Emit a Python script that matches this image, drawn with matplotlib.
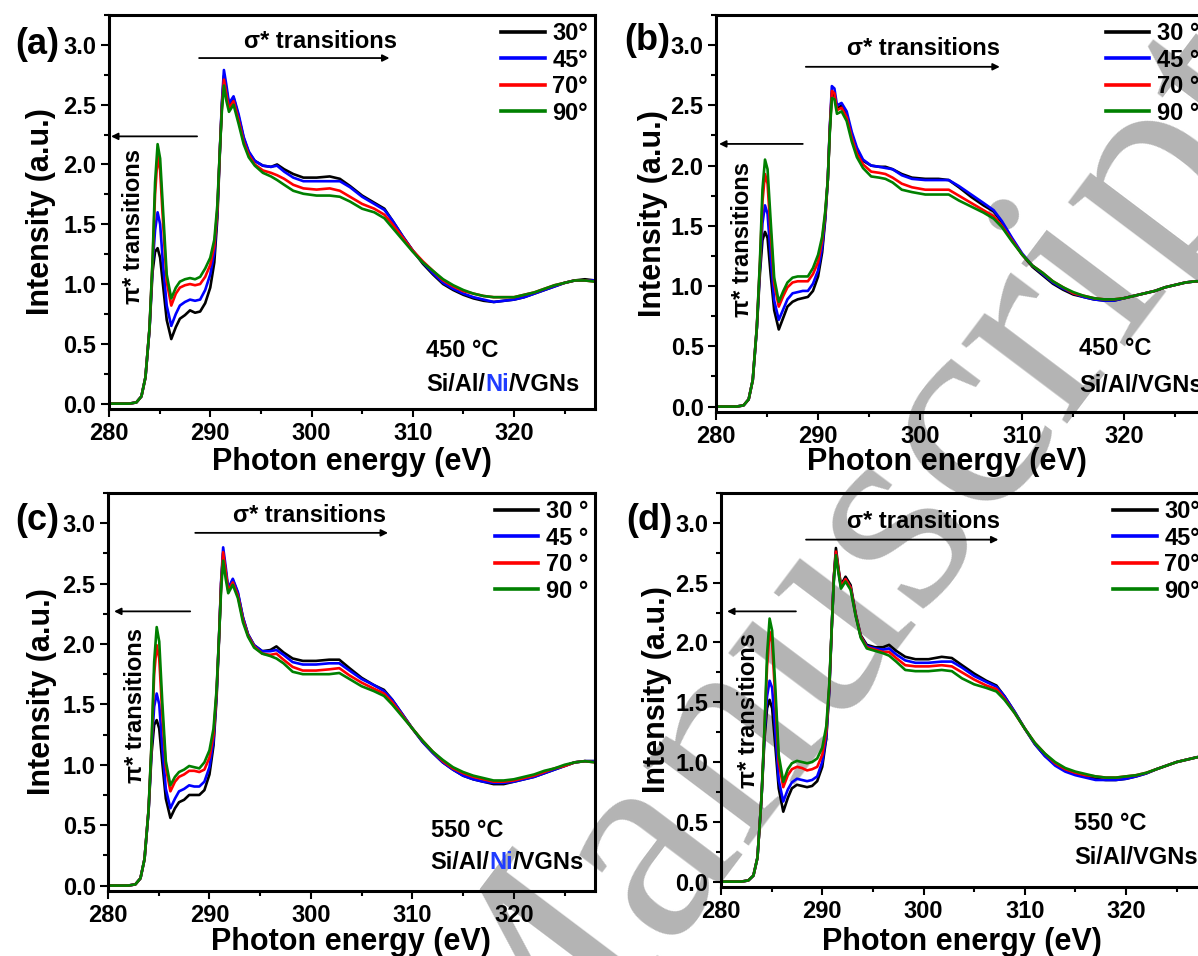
import matplotlib
matplotlib.use("Agg")
import matplotlib.pyplot as plt
from matplotlib.ticker import MultipleLocator, FormatStrFormatter

plt.rcParams['font.family'] = ['Liberation Sans', 'DejaVu Sans']
plt.rcParams['font.weight'] = 'bold'

# ---------------- data ----------------
energy = [280.0, 281.0, 282.0, 282.7, 283.2, 283.6, 284.0, 284.3, 284.55, 284.8,
          285.05, 285.35, 285.7, 286.15, 286.6, 287.0, 287.5, 288.0, 288.5, 289.0,
          289.5, 290.0, 290.4, 290.7, 290.95, 291.15, 291.35, 291.6, 291.85, 292.3,
          292.8, 293.3, 293.8, 294.4, 295.2, 296.0, 296.6, 297.3, 298.2, 299.2,
          300.5, 301.8, 302.8, 303.8, 305.0, 306.2, 307.2, 308.0, 309.0, 310.0,
          311.0, 312.0, 313.0, 314.0, 315.0, 316.0, 317.0, 318.0, 319.0, 320.0,
          321.0, 322.0, 323.0, 324.0, 325.0, 326.0, 327.0, 328.0]

# (a) 450 C  Si/Al/Ni/VGNs
a30 = [0.00, 0.00, 0.00, 0.01, 0.06, 0.22, 0.62, 1.10, 1.27, 1.30,
       1.22, 0.98, 0.70, 0.54, 0.64, 0.71, 0.74, 0.78, 0.76, 0.77,
       0.84, 0.97, 1.18, 1.55, 2.10, 2.50, 2.74, 2.62, 2.50, 2.56,
       2.40, 2.22, 2.10, 2.03, 1.99, 1.98, 2.00, 1.96, 1.92, 1.89,
       1.89, 1.90, 1.88, 1.82, 1.74, 1.68, 1.63, 1.53, 1.40, 1.28,
       1.17, 1.08, 1.00, 0.95, 0.91, 0.88, 0.86, 0.85, 0.86, 0.87,
       0.89, 0.92, 0.95, 0.98, 1.01, 1.03, 1.04, 1.03]
a45 = [0.00, 0.00, 0.00, 0.01, 0.06, 0.22, 0.62, 1.15, 1.45, 1.60,
       1.50, 1.15, 0.82, 0.65, 0.75, 0.82, 0.85, 0.87, 0.86, 0.87,
       0.95, 1.08, 1.26, 1.60, 2.12, 2.52, 2.79, 2.66, 2.51, 2.57,
       2.42, 2.23, 2.11, 2.03, 1.99, 1.98, 1.99, 1.94, 1.89, 1.86,
       1.86, 1.86, 1.86, 1.81, 1.73, 1.67, 1.62, 1.53, 1.40, 1.28,
       1.18, 1.09, 1.01, 0.96, 0.92, 0.89, 0.87, 0.85, 0.86, 0.87,
       0.89, 0.92, 0.95, 0.98, 1.01, 1.03, 1.03, 1.03]
a70 = [0.00, 0.00, 0.00, 0.01, 0.06, 0.22, 0.63, 1.18, 1.75, 2.07,
       1.95, 1.50, 1.02, 0.82, 0.92, 0.97, 0.99, 1.00, 0.99, 1.00,
       1.06, 1.16, 1.32, 1.62, 2.12, 2.48, 2.71, 2.58, 2.47, 2.53,
       2.37, 2.19, 2.08, 2.00, 1.95, 1.93, 1.91, 1.88, 1.83, 1.80,
       1.79, 1.80, 1.78, 1.73, 1.67, 1.63, 1.58, 1.50, 1.39, 1.28,
       1.19, 1.11, 1.03, 0.98, 0.94, 0.92, 0.90, 0.89, 0.89, 0.89,
       0.91, 0.93, 0.96, 0.99, 1.01, 1.03, 1.03, 1.02]
a90 = [0.00, 0.00, 0.00, 0.01, 0.06, 0.22, 0.63, 1.20, 1.85, 2.17,
       2.05, 1.60, 1.08, 0.88, 0.97, 1.02, 1.04, 1.05, 1.04, 1.06,
       1.13, 1.22, 1.37, 1.66, 2.12, 2.45, 2.66, 2.53, 2.44, 2.50,
       2.34, 2.17, 2.06, 1.99, 1.93, 1.90, 1.87, 1.83, 1.78, 1.755,
       1.74, 1.74, 1.73, 1.69, 1.63, 1.60, 1.55, 1.47, 1.37, 1.27,
       1.18, 1.11, 1.04, 0.99, 0.95, 0.92, 0.90, 0.89, 0.89, 0.89,
       0.91, 0.93, 0.96, 0.99, 1.01, 1.03, 1.03, 1.02]

# (b) 450 C  Si/Al/VGNs
b30 = [0.00, 0.00, 0.00, 0.01, 0.06, 0.22, 0.65, 1.10, 1.38, 1.45,
       1.40, 1.10, 0.80, 0.64, 0.74, 0.83, 0.87, 0.89, 0.90, 0.91,
       0.96, 1.08, 1.28, 1.55, 1.88, 2.30, 2.60, 2.58, 2.47, 2.50,
       2.42, 2.26, 2.13, 2.04, 2.00, 1.99, 1.99, 1.97, 1.93, 1.90,
       1.89, 1.89, 1.88, 1.82, 1.74, 1.67, 1.62, 1.53, 1.39, 1.26,
       1.16, 1.09, 1.02, 0.97, 0.93, 0.91, 0.89, 0.88, 0.88, 0.90,
       0.92, 0.94, 0.96, 0.99, 1.01, 1.03, 1.04, 1.04]
b45 = [0.00, 0.00, 0.00, 0.01, 0.06, 0.22, 0.65, 1.15, 1.52, 1.67,
       1.60, 1.25, 0.88, 0.72, 0.81, 0.89, 0.94, 0.95, 0.96, 0.96,
       1.02, 1.13, 1.32, 1.57, 1.88, 2.32, 2.66, 2.64, 2.50, 2.52,
       2.45, 2.28, 2.15, 2.05, 2.00, 1.99, 1.98, 1.97, 1.92, 1.89,
       1.88, 1.88, 1.88, 1.83, 1.76, 1.69, 1.63, 1.54, 1.40, 1.27,
       1.17, 1.10, 1.03, 0.98, 0.94, 0.91, 0.89, 0.88, 0.88, 0.90,
       0.92, 0.94, 0.96, 0.99, 1.01, 1.03, 1.04, 1.04]
b70 = [0.00, 0.00, 0.00, 0.01, 0.06, 0.22, 0.66, 1.18, 1.70, 1.93,
       1.85, 1.45, 1.02, 0.83, 0.92, 0.99, 1.03, 1.04, 1.04, 1.04,
       1.10, 1.20, 1.38, 1.60, 1.88, 2.30, 2.62, 2.60, 2.46, 2.48,
       2.40, 2.23, 2.10, 2.01, 1.95, 1.94, 1.93, 1.90, 1.85, 1.82,
       1.80, 1.80, 1.80, 1.75, 1.69, 1.63, 1.58, 1.50, 1.38, 1.26,
       1.17, 1.11, 1.04, 0.99, 0.94, 0.92, 0.90, 0.89, 0.89, 0.90,
       0.92, 0.94, 0.96, 0.99, 1.01, 1.03, 1.04, 1.04]
b90 = [0.00, 0.00, 0.00, 0.01, 0.06, 0.22, 0.66, 1.20, 1.80, 2.05,
       1.97, 1.55, 1.07, 0.87, 0.96, 1.03, 1.07, 1.08, 1.08, 1.08,
       1.15, 1.26, 1.41, 1.62, 1.88, 2.28, 2.56, 2.55, 2.43, 2.45,
       2.37, 2.20, 2.07, 1.98, 1.91, 1.90, 1.89, 1.86, 1.80, 1.78,
       1.76, 1.76, 1.76, 1.71, 1.66, 1.61, 1.56, 1.49, 1.37, 1.26,
       1.17, 1.11, 1.04, 0.99, 0.95, 0.92, 0.90, 0.89, 0.89, 0.90,
       0.92, 0.94, 0.96, 0.99, 1.01, 1.03, 1.04, 1.04]

# (c) 550 C  Si/Al/Ni/VGNs
c30 = [0.00, 0.00, 0.00, 0.01, 0.06, 0.22, 0.62, 1.10, 1.33, 1.37,
       1.30, 1.02, 0.72, 0.56, 0.64, 0.69, 0.71, 0.75, 0.75, 0.75,
       0.79, 0.92, 1.16, 1.55, 2.05, 2.50, 2.75, 2.60, 2.45, 2.53,
       2.42, 2.22, 2.08, 1.99, 1.94, 1.95, 1.98, 1.93, 1.88, 1.86,
       1.86, 1.87, 1.87, 1.80, 1.72, 1.66, 1.62, 1.54, 1.42, 1.30,
       1.19, 1.10, 1.02, 0.96, 0.91, 0.88, 0.86, 0.84, 0.84, 0.86,
       0.88, 0.90, 0.93, 0.96, 0.99, 1.02, 1.03, 1.03]
c45 = [0.00, 0.00, 0.00, 0.01, 0.06, 0.22, 0.62, 1.15, 1.48, 1.59,
       1.50, 1.15, 0.80, 0.64, 0.72, 0.78, 0.80, 0.83, 0.82, 0.82,
       0.86, 0.98, 1.20, 1.58, 2.07, 2.52, 2.80, 2.64, 2.46, 2.54,
       2.43, 2.22, 2.08, 1.99, 1.94, 1.94, 1.95, 1.91, 1.85, 1.83,
       1.83, 1.84, 1.84, 1.78, 1.71, 1.66, 1.61, 1.54, 1.42, 1.30,
       1.19, 1.10, 1.02, 0.96, 0.91, 0.88, 0.86, 0.85, 0.85, 0.86,
       0.88, 0.90, 0.93, 0.96, 0.99, 1.02, 1.03, 1.03]
c70 = [0.00, 0.00, 0.00, 0.01, 0.06, 0.22, 0.63, 1.18, 1.75, 1.99,
       1.88, 1.42, 0.98, 0.78, 0.86, 0.90, 0.92, 0.95, 0.95, 0.94,
       0.96, 1.06, 1.25, 1.60, 2.07, 2.50, 2.76, 2.60, 2.44, 2.51,
       2.40, 2.20, 2.07, 1.98, 1.92, 1.91, 1.92, 1.87, 1.81, 1.78,
       1.78, 1.79, 1.80, 1.74, 1.68, 1.63, 1.59, 1.52, 1.41, 1.30,
       1.20, 1.11, 1.03, 0.97, 0.93, 0.90, 0.88, 0.86, 0.86, 0.87,
       0.89, 0.91, 0.94, 0.97, 0.99, 1.02, 1.03, 1.02]
c90 = [0.00, 0.00, 0.00, 0.01, 0.06, 0.22, 0.63, 1.20, 1.85, 2.14,
       2.02, 1.52, 1.03, 0.83, 0.90, 0.94, 0.96, 0.99, 0.98, 0.97,
       1.02, 1.12, 1.30, 1.62, 2.07, 2.45, 2.69, 2.54, 2.42, 2.49,
       2.38, 2.18, 2.06, 1.97, 1.92, 1.90, 1.88, 1.84, 1.77, 1.75,
       1.75, 1.75, 1.76, 1.71, 1.65, 1.61, 1.57, 1.50, 1.40, 1.30,
       1.20, 1.11, 1.04, 0.98, 0.94, 0.91, 0.89, 0.87, 0.87, 0.88,
       0.90, 0.92, 0.95, 0.97, 1.00, 1.02, 1.03, 1.02]

# (d) 550 C  Si/Al/VGNs
d30 = [0.00, 0.00, 0.00, 0.01, 0.05, 0.20, 0.70, 1.20, 1.45, 1.52,
       1.45, 1.15, 0.78, 0.585, 0.70, 0.78, 0.81, 0.80, 0.79, 0.80,
       0.84, 0.96, 1.20, 1.60, 2.15, 2.55, 2.79, 2.62, 2.48, 2.55,
       2.48, 2.24, 2.06, 1.98, 1.96, 1.96, 1.98, 1.93, 1.88, 1.86,
       1.86, 1.88, 1.87, 1.81, 1.74, 1.68, 1.64, 1.55, 1.42, 1.28,
       1.15, 1.05, 0.98, 0.93, 0.90, 0.88, 0.86, 0.85, 0.85, 0.86,
       0.88, 0.905, 0.94, 0.97, 1.00, 1.02, 1.04, 1.05]
d45 = [0.00, 0.00, 0.00, 0.01, 0.05, 0.20, 0.70, 1.25, 1.55, 1.68,
       1.62, 1.28, 0.85, 0.67, 0.77, 0.83, 0.86, 0.85, 0.84, 0.85,
       0.88, 1.00, 1.22, 1.62, 2.15, 2.55, 2.75, 2.60, 2.46, 2.53,
       2.46, 2.23, 2.05, 1.97, 1.95, 1.94, 1.95, 1.90, 1.85, 1.83,
       1.83, 1.84, 1.84, 1.79, 1.72, 1.67, 1.63, 1.55, 1.42, 1.28,
       1.15, 1.05, 0.97, 0.92, 0.89, 0.87, 0.85, 0.85, 0.85, 0.86,
       0.88, 0.905, 0.94, 0.97, 1.00, 1.02, 1.04, 1.05]
d70 = [0.00, 0.00, 0.00, 0.01, 0.05, 0.20, 0.70, 1.28, 1.80, 2.09,
       2.00, 1.55, 1.00, 0.79, 0.89, 0.94, 0.96, 0.95, 0.93, 0.94,
       0.96, 1.06, 1.26, 1.64, 2.15, 2.55, 2.76, 2.61, 2.47, 2.53,
       2.46, 2.23, 2.05, 1.96, 1.94, 1.92, 1.92, 1.87, 1.81, 1.80,
       1.80, 1.81, 1.80, 1.75, 1.69, 1.64, 1.61, 1.53, 1.41, 1.28,
       1.16, 1.07, 0.99, 0.94, 0.91, 0.89, 0.88, 0.87, 0.87, 0.88,
       0.89, 0.91, 0.94, 0.97, 1.00, 1.02, 1.04, 1.05]
d90 = [0.00, 0.00, 0.00, 0.01, 0.05, 0.20, 0.70, 1.30, 1.90, 2.20,
       2.10, 1.65, 1.06, 0.835, 0.94, 0.99, 1.01, 1.00, 0.99, 1.00,
       1.03, 1.12, 1.30, 1.66, 2.15, 2.52, 2.73, 2.58, 2.45, 2.51,
       2.44, 2.22, 2.04, 1.95, 1.93, 1.91, 1.89, 1.84, 1.77, 1.76,
       1.76, 1.77, 1.76, 1.70, 1.65, 1.62, 1.59, 1.52, 1.41, 1.28,
       1.16, 1.07, 1.00, 0.95, 0.92, 0.90, 0.88, 0.87, 0.87, 0.88,
       0.89, 0.91, 0.94, 0.97, 1.00, 1.02, 1.04, 1.05]

labels_nospace = ["30°", "45°", "70°", "90°"]
labels_space = ["30 °", "45 °", "70 °", "90 °"]
temps = ["450 °C", "450 °C", "550 °C", "550 °C"]
panel_tags = ["(a)", "(b)", "(c)", "(d)"]
line_colors = ["#000000", "#0000ff", "#ff0000", "#008000"]

# ---------------- figure ----------------
W, H = 1198, 956
fig = plt.figure(figsize=(W / 100, H / 100), dpi=100)


def px_rect(l, r, t, b):
    return [l / W, 1 - b / H, (r - l) / W, (b - t) / H]


# watermark (behind everything)
fig.text(0.710, 0.390, "Manuscript", rotation=53, fontsize=208,
         color="#b4b4b4", family=["Liberation Serif", "DejaVu Serif"],
         weight="normal", ha="center", va="center", zorder=-5,
         rotation_mode="anchor")

panels = [
    dict(rect=px_rect(109, 595, 15, 409), series=[a30, a45, a70, a90], labels=labels_nospace,
         tag_xy=(37, 44), ylab_x=-0.14, xlab=(0.499, -0.134),
         sig_txt=(300.9, 3.03), sig_arr=(288.9, 307.7, 2.89),
         pi_arr=(288.7, 280.2, 2.235), pi_txt=(282.45, 1.48),
         temp_xy=(311.3, 0.445), samp_y=0.16, ni=True),
    dict(rect=px_rect(716, 1206, 15, 412), series=[b30, b45, b70, b90], labels=labels_space,
         tag_xy=(647, 41), ylab_x=-0.129, xlab=(0.471, -0.126),
         sig_txt=(300.3, 2.97), sig_arr=(288.8, 307.8, 2.82),
         pi_arr=(288.5, 280.3, 2.18), pi_txt=(282.6, 1.39),
         temp_xy=(315.6, 0.48), samp_y=0.174, ni=False),
    dict(rect=px_rect(108, 595, 493, 891), series=[c30, c45, c70, c90], labels=labels_space,
         tag_xy=(37, 521), ylab_x=-0.136, xlab=(0.499, -0.128),
         sig_txt=(299.85, 3.06), sig_arr=(288.6, 307.6, 2.92),
         pi_arr=(288.1, 280.6, 2.27), pi_txt=(282.7, 1.49),
         temp_xy=(311.8, 0.46), samp_y=0.19, ni=True),
    dict(rect=px_rect(721, 1207, 493, 887), series=[d30, d45, d70, d90], labels=labels_nospace,
         tag_xy=(649, 521), ylab_x=-0.132, xlab=(0.496, -0.139),
         sig_txt=(300.0, 3.01), sig_arr=(288.4, 307.4, 2.86),
         pi_arr=(287.4, 280.6, 2.26), pi_txt=(282.7, 1.43),
         temp_xy=(314.9, 0.49), samp_y=0.205, ni=False),
]

FS = 17
for i, p in enumerate(panels):
    ax = fig.add_axes(p["rect"])
    ax.set_facecolor("none")
    for ys, col, lab in zip(p["series"], line_colors, p["labels"]):
        ax.plot(energy, ys, color=col, lw=1.9, label=lab, solid_joinstyle="round")
    ax.set_xlim(280, 328)
    ax.set_ylim(-0.045, 3.25)
    ax.xaxis.set_major_locator(MultipleLocator(10))
    ax.xaxis.set_minor_locator(MultipleLocator(5))
    ax.yaxis.set_major_locator(MultipleLocator(0.5))
    ax.yaxis.set_minor_locator(MultipleLocator(0.25))
    ax.yaxis.set_major_formatter(FormatStrFormatter("%.1f"))
    ax.tick_params(which="both", direction="out", top=False, right=False,
                   width=1.5, labelsize=FS, pad=3)
    ax.tick_params(which="major", length=6)
    ax.tick_params(which="minor", length=3.5)
    for sp in ax.spines.values():
        sp.set_linewidth(2.2)

    leg = ax.legend(loc="upper right", frameon=False, fontsize=FS,
                    handlelength=1.85, handletextpad=0.3, labelspacing=0.15,
                    borderpad=0.2, borderaxespad=0.1)
    for ln in leg.get_lines():
        ln.set_linewidth(2.6)

    ax.text(p["ylab_x"], 0.5, "Intensity (a.u.)", rotation=90, fontsize=22,
            ha="center", va="center", transform=ax.transAxes)
    ax.text(p["xlab"][0], p["xlab"][1], "Photon energy (eV)", fontsize=22,
            ha="center", va="center", transform=ax.transAxes)

    fig.text(p["tag_xy"][0] / W, 1 - p["tag_xy"][1] / H, panel_tags[i],
             fontsize=26, ha="center", va="center")

    # sigma* annotation
    ax.text(p["sig_txt"][0], p["sig_txt"][1], "σ* transitions", fontsize=FS,
            ha="center", va="center")
    x0, x1, ya = p["sig_arr"]
    ax.annotate("", xy=(x1, ya), xytext=(x0, ya),
                arrowprops=dict(arrowstyle="-|>", color="black", lw=1.3,
                                mutation_scale=10, shrinkA=0, shrinkB=0))
    # pi* annotation
    x0, x1, ya = p["pi_arr"]
    ax.annotate("", xy=(x1, ya), xytext=(x0, ya),
                arrowprops=dict(arrowstyle="-|>", color="black", lw=1.3,
                                mutation_scale=10, shrinkA=0, shrinkB=0))
    ax.text(p["pi_txt"][0], p["pi_txt"][1], "π* transitions", fontsize=FS,
            rotation=90, ha="center", va="center")

    # sample description
    tx, ty = p["temp_xy"]
    ax.text(tx, ty, temps[i], fontsize=FS, ha="left", va="center")
    if p["ni"]:
        t1 = ax.text(tx, p["samp_y"], "Si/Al/", fontsize=FS, ha="left", va="center")
        t2 = ax.annotate("Ni", xy=(1, 0), xycoords=t1, fontsize=FS,
                         ha="left", va="bottom", color="#1f3cff")
        ax.annotate("/VGNs", xy=(1, 0), xycoords=t2, fontsize=FS,
                    ha="left", va="bottom")
    else:
        ax.text(tx, p["samp_y"], "Si/Al/VGNs", fontsize=FS, ha="left", va="center")

fig.savefig("out.png", dpi=100)
